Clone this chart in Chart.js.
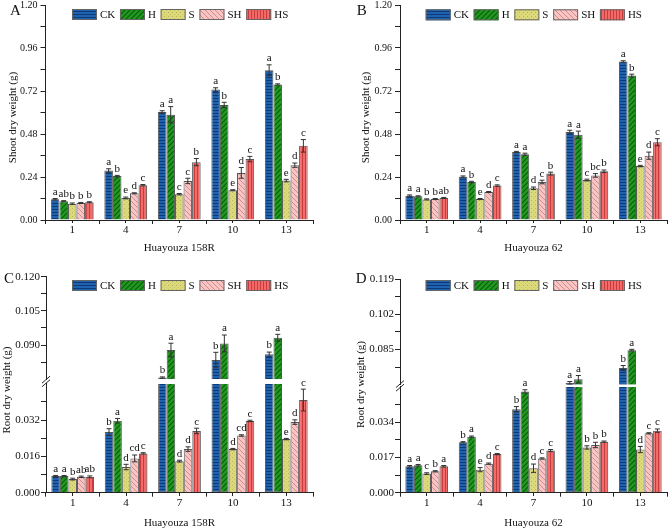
<!DOCTYPE html>
<html><head><meta charset="utf-8">
<script src="https://cdn.jsdelivr.net/npm/chart.js@4.4.1/dist/chart.umd.min.js"></script>
<style>
html,body{margin:0;padding:0;background:#fff;}
#wrap{position:relative;width:669px;height:530px;background:#fff;}
canvas{position:absolute;}
</style></head><body>
<div id="wrap">
<canvas id="cA" width="335" height="265" style="left:0;top:0;width:335px;height:265px"></canvas>
<canvas id="cB" width="334" height="265" style="left:335px;top:0;width:334px;height:265px"></canvas>
<canvas id="cC" width="335" height="265" style="left:0;top:265px;width:335px;height:265px"></canvas>
<canvas id="cD" width="334" height="265" style="left:335px;top:265px;width:334px;height:265px"></canvas>
</div>
<script>
// ---------- data ----------
const categories = ['1', '4', '7', '10', '13'];
const seriesNames = ['CK', 'H', 'S', 'SH', 'HS'];

// A: shoot dry weight, Huayouza 158R  (rows: CK, H, S, SH, HS)
const shoot158R = [
  [0.116, 0.276, 0.603, 0.728, 0.836],
  [0.105, 0.245, 0.588, 0.642, 0.756],
  [0.091, 0.123, 0.144, 0.166, 0.220],
  [0.095, 0.149, 0.218, 0.263, 0.306],
  [0.099, 0.194, 0.323, 0.340, 0.414]
];
const shoot158RErr = [
  [0.004, 0.010, 0.007, 0.010, 0.030],
  [0.003, 0.004, 0.045, 0.015, 0.004],
  [0.004, 0.005, 0.004, 0.003, 0.007],
  [0.003, 0.003, 0.015, 0.030, 0.012],
  [0.003, 0.004, 0.020, 0.015, 0.035]
];
const shoot158RSig = [
  ['a', 'a', 'a', 'a', 'a'],
  ['ab', 'b', 'a', 'b', 'b'],
  ['b', 'e', 'c', 'e', 'e'],
  ['b', 'd', 'c', 'd', 'd'],
  ['b', 'c', 'b', 'c', 'c']
];

// B: shoot dry weight, Huayouza 62
const shoot62 = [
  [0.136, 0.242, 0.380, 0.491, 0.884],
  [0.132, 0.212, 0.367, 0.476, 0.806],
  [0.115, 0.117, 0.177, 0.223, 0.301],
  [0.117, 0.156, 0.212, 0.249, 0.359],
  [0.123, 0.192, 0.259, 0.272, 0.434]
];
const shoot62Err = [
  [0.004, 0.004, 0.003, 0.010, 0.005],
  [0.003, 0.004, 0.006, 0.020, 0.008],
  [0.003, 0.003, 0.007, 0.005, 0.004],
  [0.003, 0.003, 0.010, 0.010, 0.020],
  [0.003, 0.004, 0.008, 0.007, 0.020]
];
const shoot62Sig = [
  ['a', 'a', 'a', 'a', 'a'],
  ['a', 'b', 'a', 'a', 'b'],
  ['b', 'e', 'd', 'c', 'e'],
  ['b', 'd', 'c', 'bc', 'd'],
  ['ab', 'c', 'b', 'b', 'c']
];

// C: root dry weight, Huayouza 158R
const root158R = [
  [0.0073, 0.0267, 0.0757, 0.0834, 0.0859],
  [0.0073, 0.0317, 0.0878, 0.0907, 0.0932],
  [0.0060, 0.0113, 0.0139, 0.0192, 0.0236],
  [0.0070, 0.0151, 0.0192, 0.0252, 0.0311],
  [0.0070, 0.0173, 0.0272, 0.0316, 0.0408]
];
const root158RErr = [
  [0.0003, 0.0015, 0.0003, 0.0034, 0.0010],
  [0.0003, 0.0010, 0.0030, 0.0037, 0.0015],
  [0.0004, 0.0012, 0.0004, 0.0003, 0.0003],
  [0.0003, 0.0015, 0.0010, 0.0003, 0.0010],
  [0.0004, 0.0003, 0.0012, 0.0003, 0.0048]
];
const root158RSig = [
  ['a', 'b', 'b', 'b', 'b'],
  ['a', 'a', 'a', 'a', 'a'],
  ['b', 'd', 'd', 'd', 'e'],
  ['ab', 'cd', 'd', 'cd', 'd'],
  ['ab', 'c', 'c', 'c', 'c']
];

// D: root dry weight, Huayouza 62
const root62 = [
  [0.0127, 0.0243, 0.0402, 0.0690, 0.0761],
  [0.0132, 0.0270, 0.0488, 0.0707, 0.0847],
  [0.0092, 0.0111, 0.0118, 0.0218, 0.0208],
  [0.0103, 0.0140, 0.0165, 0.0230, 0.0286],
  [0.0127, 0.0186, 0.0203, 0.0246, 0.0299]
];
const root62Err = [
  [0.0004, 0.0003, 0.0013, 0.0006, 0.0012],
  [0.0004, 0.0003, 0.0008, 0.0018, 0.0004],
  [0.0004, 0.0010, 0.0020, 0.0008, 0.0015],
  [0.0003, 0.0003, 0.0003, 0.0013, 0.0003],
  [0.0004, 0.0003, 0.0005, 0.0003, 0.0008]
];
const root62Sig = [
  ['a', 'b', 'b', 'a', 'b'],
  ['a', 'a', 'a', 'a', 'a'],
  ['c', 'e', 'd', 'b', 'd'],
  ['b', 'd', 'c', 'b', 'c'],
  ['a', 'c', 'c', 'b', 'c']
];

// tick labels that are printed
const shootTickLabels = ['0.00', '0.24', '0.48', '0.72', '0.96', '1.20'];
const root158RTickLabels = ['0.000', '0.016', '0.032', '0.090', '0.105', '0.120'];
const root62TickLabels = ['0.000', '0.017', '0.034', '0.085', '0.102', '0.119'];

// ---------- styling ----------
const FONT = "'Liberation Serif','Times New Roman',Times,serif";
Chart.defaults.font.family = FONT;
Chart.defaults.color = '#111';

function makePattern(name) {
  const c = document.createElement('canvas');
  const g = c.getContext('2d');
  let s;
  if (name === 'CK') {
    s = 3; c.width = c.height = s;
    g.fillStyle = '#1f62b0'; g.fillRect(0, 0, s, s);
    g.fillStyle = '#0e3b78'; g.fillRect(0, 2, s, 1);
  } else if (name === 'H') {
    s = 5; c.width = c.height = s;
    g.fillStyle = '#1f9a1f'; g.fillRect(0, 0, s, s);
    g.strokeStyle = '#0b5a0b'; g.lineWidth = 1.1;
    g.beginPath();
    g.moveTo(-1, s + 1); g.lineTo(s + 1, -1);
    g.moveTo(-1, 1); g.lineTo(1, -1);
    g.moveTo(s - 1, s + 1); g.lineTo(s + 1, s - 1);
    g.stroke();
  } else if (name === 'S') {
    s = 4; c.width = c.height = s;
    g.fillStyle = '#dcd97a'; g.fillRect(0, 0, s, s);
    g.fillStyle = '#b9b458'; g.fillRect(0, 0, 1, 1);
    g.fillStyle = '#c9c566'; g.fillRect(2, 2, 1, 1);
  } else if (name === 'SH') {
    s = 5; c.width = c.height = s;
    g.fillStyle = '#f8c4c4'; g.fillRect(0, 0, s, s);
    g.strokeStyle = '#d68a8a'; g.lineWidth = 1;
    g.beginPath();
    g.moveTo(-1, -1); g.lineTo(s + 1, s + 1);
    g.moveTo(s - 1, -1); g.lineTo(s + 1, 1);
    g.moveTo(-1, s - 1); g.lineTo(1, s + 1);
    g.stroke();
  } else {
    s = 3; c.width = c.height = s;
    g.fillStyle = '#f26a6a'; g.fillRect(0, 0, s, s);
    g.fillStyle = '#c83c3c'; g.fillRect(2, 0, 1, s);
  }
  return g.createPattern(c, 'repeat');
}
const patterns = seriesNames.map(makePattern);

function buildPanel(id, cfg) {
  const g = cfg.geom;
  const broken = !!cfg.low;
  const datasets = [];
  cfg.values.forEach((vals, s) => {
    const common = {
      label: seriesNames[s], backgroundColor: patterns[s], borderColor: '#555',
      borderWidth: 1, xAxisID: 'x', categoryPercentage: 0.8, barPercentage: 1.0
    };
    if (!broken) {
      datasets.push(Object.assign({}, common, {data: vals, yAxisID: 'y'}));
    } else {
      datasets.push(Object.assign({}, common, {
        stack: seriesNames[s], yAxisID: 'yLow',
        data: vals.map(v => Math.min(v, cfg.low.max)),
        borderSkipped: vals.map(v => v > cfg.low.max ? 'end' : 'start')
      }));
      datasets.push(Object.assign({}, common, {
        stack: seriesNames[s], yAxisID: 'yUp',
        data: vals.map(v => v > cfg.up.min ? [cfg.up.min, v] : null),
        borderSkipped: 'start'
      }));
    }
  });

  const fixY = s => { s.width = g.yW; s.paddingTop = 0; s.paddingBottom = 0; };
  function valueAxis(r, weight, hideVal, extra) {
    return Object.assign({
      type: 'linear', axis: 'y', position: 'left', weight: weight,
      min: r.min, max: r.max, stacked: false,
      ticks: {
        stepSize: r.step, autoSkip: false, padding: g.tickPad, font: {size: g.tickFont}, color: '#111',
        callback: v => { const t = Number(v).toFixed(r.dec); return cfg.tickLabels.includes(t) ? t : ''; }
      },
      grid: {
        drawOnChartArea: false, tickLength: 5, color: '#222',
        tickColor: c => (c.tick && hideVal !== null && Math.abs(c.tick.value - hideVal) < 1e-9) ? 'rgba(0,0,0,0)' : '#222'
      },
      border: {color: '#222', width: 1},
      afterFit: fixY
    }, extra || {});
  }

  const baseAxis = broken ? 'yLow' : 'y';
  const scales = {
    x: {
      type: 'category', axis: 'x', position: 'bottom', offset: true,
      grid: {offset: true, drawOnChartArea: false, drawTicks: true, tickLength: 4, color: '#222'},
      border: {color: '#222', width: 1},
      ticks: {padding: 0, font: {size: 11}, color: '#111', maxRotation: 0, autoSkip: false},
      title: {display: true, text: cfg.xTitle, font: {size: 11}, color: '#111', padding: {top: 0, bottom: g.xTitlePad}},
      afterFit: s => { s.height = g.xH; s.paddingLeft = 0; s.paddingRight = 0; }
    },
    x2: {
      type: 'category', axis: 'x', position: {[baseAxis]: 0}, offset: true,
      grid: {offset: false, drawOnChartArea: false, drawTicks: true, tickLength: 3, color: '#222'},
      border: {display: false},
      ticks: {display: false}
    },
    yt: {
      type: 'linear', axis: 'y', position: 'left', weight: 10, min: 0, max: 1,
      ticks: {display: false},
      grid: {display: false, drawTicks: false},
      border: {display: false},
      title: {display: true, text: cfg.yTitle, font: {size: 11}, color: '#111', padding: {top: g.yTitlePad, bottom: 0}},
      afterFit: s => { s.width = g.tW; s.paddingTop = 0; s.paddingBottom = 0; }
    }
  };
  if (!broken) {
    scales.y = valueAxis(cfg.range, 1, null);
  } else {
    scales.yUp = valueAxis(cfg.up, 3, cfg.up.min, {stack: 'v', stackWeight: g.wUp});
    scales.yGap = {type: 'linear', axis: 'y', position: 'left', stack: 'v', stackWeight: g.wGap, weight: 2, display: false, min: 0, max: 1};
    scales.yLow = valueAxis(cfg.low, 1, cfg.low.max, {stack: 'v', stackWeight: g.wLow});
  }

  const decor = {
    id: 'decor',
    afterLayout(chart) {
      const s = chart.scales.yt;
      s.top += g.titleShift; s.bottom += g.titleShift;
    },
    afterDatasetsDraw(chart) {
      const c = chart.ctx;
      c.save();
      cfg.values.forEach((vals, s) => {
        const meta = chart.getDatasetMeta(broken ? 2 * s : s);
        vals.forEach((v, i) => {
          const el = meta.data[i];
          if (!el) return;
          const e = cfg.errs[s][i];
          const sc = broken ? (v > cfg.up.min ? chart.scales.yUp : chart.scales.yLow) : chart.scales.y;
          const yT = sc.getPixelForValue(v + e);
          const yB = Math.min(sc.getPixelForValue(v - e), sc.bottom);
          const x = el.x;
          c.strokeStyle = '#333'; c.lineWidth = 1;
          c.beginPath();
          c.moveTo(x, yT); c.lineTo(x, yB);
          c.moveTo(x - 2.5, yT); c.lineTo(x + 2.5, yT);
          c.moveTo(x - 2.5, yB); c.lineTo(x + 2.5, yB);
          c.stroke();
          c.fillStyle = '#111'; c.font = '11px ' + FONT;
          c.textAlign = 'center'; c.textBaseline = 'bottom';
          c.fillText(cfg.sigs[s][i], x, yT - 1);
        });
      });
      if (broken) {
        const x = chart.chartArea.left;
        const yc = (chart.scales.yUp.bottom + chart.scales.yLow.top) / 2;
        c.strokeStyle = '#222'; c.lineWidth = 1;
        c.beginPath();
        [-1.8, 1.8].forEach(d => { c.moveTo(x - 4, yc + d + 3.5); c.lineTo(x + 4, yc + d - 3.5); });
        c.stroke();
      }
      c.restore();
    },
    afterDraw(chart) {
      const c = chart.ctx;
      c.save();
      let x = chart.chartArea.left + g.legendDX;
      const y = g.legendY;
      c.font = '11px ' + FONT; c.textBaseline = 'middle'; c.textAlign = 'left';
      seriesNames.forEach((n, s) => {
        c.fillStyle = patterns[s]; c.fillRect(x, y, 25, 11);
        c.strokeStyle = '#666'; c.lineWidth = 1; c.strokeRect(x + 0.5, y + 0.5, 24, 10);
        c.fillStyle = '#111'; c.fillText(n, x + 28, y + 6);
        x += 28 + c.measureText(n).width + 4.7;
      });
      c.font = '15px ' + FONT; c.textBaseline = 'alphabetic'; c.fillStyle = '#111';
      c.fillText(cfg.letter, g.lx, g.ly);
      c.restore();
    }
  };

  return new Chart(document.getElementById(id), {
    type: 'bar',
    data: {labels: categories, datasets: datasets},
    options: {
      responsive: false, animation: false,
      layout: {padding: {left: 0, right: g.padR, top: g.padT, bottom: 0}},
      plugins: {legend: {display: false}, tooltip: {enabled: false}, title: {display: false}},
      scales: scales
    },
    plugins: [decor]
  });
}

buildPanel('cA', {
  values: shoot158R, errs: shoot158RErr, sigs: shoot158RSig, tickLabels: shootTickLabels,
  letter: 'A', xTitle: 'Huayouza 158R', yTitle: 'Shoot dry weight (g)',
  range: {min: 0, max: 1.2, step: 0.12, dec: 2},
  geom: {padT: 5, padR: 22, tW: 20.1, yTitlePad: 6.9, yW: 25.4, xH: 45, xTitlePad: 10.4,
         titleShift: 5, legendDX: 26.5, legendY: 9, lx: 10, ly: 15, tickFont: 10, tickPad: 3}
});
buildPanel('cB', {
  values: shoot62, errs: shoot62Err, sigs: shoot62Sig, tickLabels: shootTickLabels,
  letter: 'B', xTitle: 'Huayouza 62', yTitle: 'Shoot dry weight (g)',
  range: {min: 0, max: 1.2, step: 0.12, dec: 2},
  geom: {padT: 5, padR: 2, tW: 38.1, yTitlePad: 24.9, yW: 26.9, xH: 45, xTitlePad: 10.4,
         titleShift: 5, legendDX: 25.7, legendY: 9.3, lx: 21.7, ly: 15, tickFont: 10, tickPad: 3}
});
buildPanel('cC', {
  values: root158R, errs: root158RErr, sigs: root158RSig, tickLabels: root158RTickLabels,
  letter: 'C', xTitle: 'Huayouza 158R', yTitle: 'Root dry weight (g)',
  low: {min: 0, max: 0.048, step: 0.008, dec: 3},
  up: {min: 0.075, max: 0.120, step: 0.0075, dec: 3},
  geom: {padT: 11.7, padR: 22, tW: 13.6, yTitlePad: 0.4, yW: 32.4, xH: 37.3, xTitlePad: 0.4,
         titleShift: 5.3, legendDX: 26, legendY: 15, lx: 4, ly: 18,
         wUp: 102.5, wGap: 4.5, wLow: 109, tickFont: 11, tickPad: 1}
});
buildPanel('cD', {
  values: root62, errs: root62Err, sigs: root62Sig, tickLabels: root62TickLabels,
  letter: 'D', xTitle: 'Huayouza 62', yTitle: 'Root dry weight (g)',
  low: {min: 0, max: 0.051, step: 0.0085, dec: 3},
  up: {min: 0.068, max: 0.119, step: 0.0085, dec: 3},
  geom: {padT: 14, padR: 2, tW: 32.3, yTitlePad: 19.1, yW: 32.7, xH: 37.3, xTitlePad: 0.4,
         titleShift: -1.3, legendDX: 25.7, legendY: 15, lx: 20.7, ly: 18,
         wUp: 105.85, wGap: 2, wLow: 105.85, tickFont: 11, tickPad: 1}
});
</script>
</body></html>
